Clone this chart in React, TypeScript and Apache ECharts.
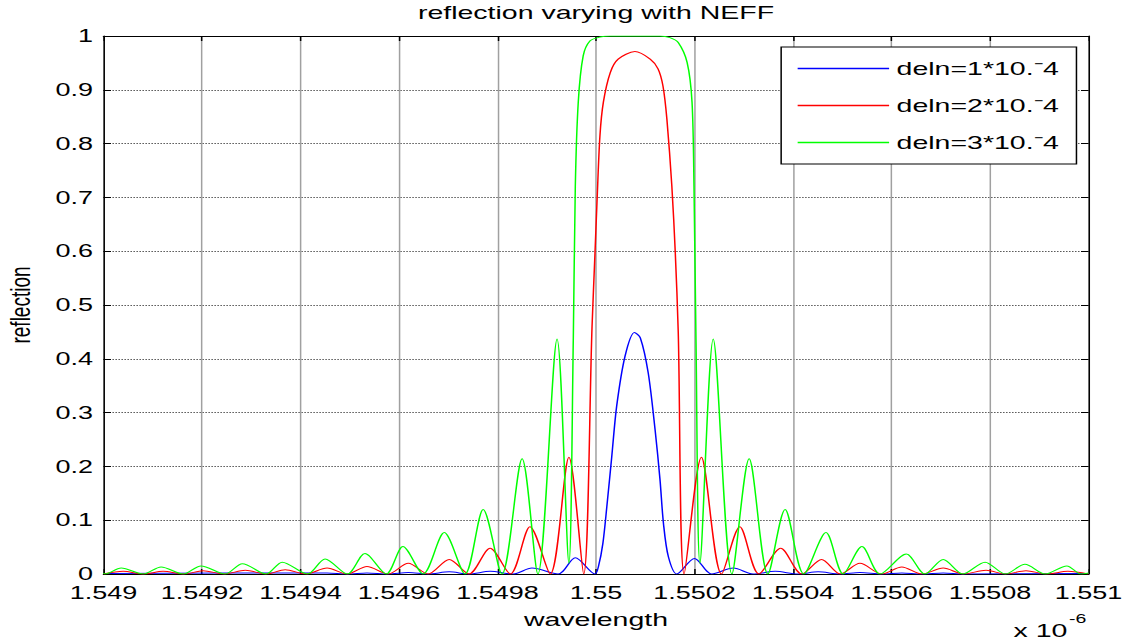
import React, { useEffect, useRef } from 'react';
import * as echarts from 'echarts';

const FONT = '"Liberation Sans", Arial, Helvetica, sans-serif';

const TITLE = 'reflection varying with NEFF';
const X_NAME = 'wavelength';
const Y_NAME = 'reflection';
const X_EXP_BASE = 'x 10';
const X_EXP_POWER = '-6';
const SERIES_NAMES = ['deln=1*10.\u207B4', 'deln=2*10.\u207B4', 'deln=3*10.\u207B4'];
const SERIES_COLORS = ['#0000ff', '#ff0000', '#00ff00'];

const X_MIN = 1.549;
const X_MAX = 1.551;
const X_STEP = 0.0002;
const Y_MIN = 0;
const Y_MAX = 1;
const Y_STEP = 0.1;

// deln = 1e-4 (blue)
const wl1 = [
  1.549000, 1.549454, 1.549495, 1.549535, 1.549578, 1.549619, 1.549659, 1.549702, 1.549742, 1.549785,
  1.549832, 1.549870, 1.549923, 1.549958, 1.549998, 1.550005, 1.550014, 1.550022, 1.550032, 1.550042,
  1.550059, 1.550078, 1.550090, 1.550106, 1.550120, 1.550130, 1.550137, 1.550147, 1.550164, 1.550200,
  1.550235, 1.550279, 1.550319, 1.550364, 1.550410, 1.550451, 1.550496, 1.550536, 1.550580, 1.550621,
  1.550661, 1.550705, 1.550746, 1.551000,
];
const r1 = [
  0.001, 0.002, 0, 0.002, 0, 0.003, 0, 0.004, 0, 0.005,
  0, 0.011, 0, 0.030, 0, 0.014, 0.057, 0.125, 0.218, 0.312,
  0.405, 0.449, 0.439, 0.374, 0.268, 0.175, 0.094, 0.032, 0, 0.029,
  0, 0.011, 0, 0.005, 0, 0.004, 0, 0.003, 0, 0.002,
  0, 0.002, 0, 0.001,
];

// deln = 2e-4 (red)
const wl2 = [
  1.549000, 1.549040, 1.549081, 1.549121, 1.549164, 1.549202, 1.549245, 1.549288, 1.549330, 1.549369,
  1.549411, 1.549454, 1.549495, 1.549535, 1.549578, 1.549619, 1.549659, 1.549702, 1.549742, 1.549785,
  1.549826, 1.549866, 1.549907, 1.549945, 1.549975, 1.549992, 1.549998, 1.550002, 1.550008, 1.550015,
  1.550029, 1.550045, 1.550079, 1.550110, 1.550126, 1.550136, 1.550144, 1.550154, 1.550161, 1.550167,
  1.550179, 1.550214, 1.550255, 1.550292, 1.550331, 1.550375, 1.550418, 1.550458, 1.550496, 1.550536,
  1.550580, 1.550621, 1.550661, 1.550705, 1.550746, 1.550792, 1.550831, 1.550873, 1.550915, 1.550958,
  1.551000,
];
const r2 = [
  0, 0.005, 0, 0.005, 0, 0.006, 0, 0.007, 0, 0.008,
  0, 0.011, 0, 0.014, 0, 0.020, 0, 0.027, 0, 0.048,
  0, 0.088, 0, 0.217, 0, 0.46, 0.597, 0.69, 0.814, 0.877,
  0.932, 0.957, 0.971, 0.957, 0.939, 0.907, 0.845, 0.721, 0.597, 0.45,
  0, 0.217, 0, 0.088, 0, 0.048, 0, 0.027, 0, 0.020,
  0, 0.013, 0, 0.011, 0, 0.007, 0, 0.006, 0, 0.005,
  0,
];

// deln = 3e-4 (green)
const wl3 = [
  1.549000, 1.549003, 1.549036, 1.549081, 1.549117, 1.549162, 1.549198, 1.549247, 1.549282, 1.549330,
  1.549363, 1.549414, 1.549450, 1.549495, 1.549531, 1.549574, 1.549608, 1.549649, 1.549692, 1.549734,
  1.549771, 1.549809, 1.549850, 1.549882, 1.549921, 1.549945, 1.549954, 1.549958, 1.549964, 1.549974,
  1.549988, 1.550008, 1.550029, 1.550130, 1.550150, 1.550167, 1.550185, 1.550195, 1.550199, 1.550203,
  1.550211, 1.550238, 1.550276, 1.550311, 1.550349, 1.550384, 1.550422, 1.550467, 1.550502, 1.550540,
  1.550577, 1.550630, 1.550668, 1.550705, 1.550745, 1.550790, 1.550831, 1.550871, 1.550912, 1.550956,
  1.550985, 1.551000,
];
const r3 = [
  0.002, 0, 0.011, 0, 0.013, 0, 0.015, 0, 0.019, 0,
  0.022, 0, 0.028, 0, 0.038, 0, 0.051, 0, 0.077, 0,
  0.12, 0, 0.214, 0, 0.437, 0.02, 0.44, 0.72, 0.877, 0.963,
  0.991, 0.998, 1.0, 1.0, 0.997, 0.988, 0.951, 0.877, 0.72, 0.436,
  0.02, 0.437, 0, 0.214, 0, 0.12, 0, 0.077, 0, 0.051,
  0, 0.037, 0, 0.027, 0, 0.022, 0, 0.018, 0, 0.015,
  0, 0.002,
];

const WAVELENGTHS = [wl1, wl2, wl3];
const REFLECTIONS = [r1, r2, r3];

// The reference picture is horizontally stretched; draw at a narrower width and stretch it.
const PAGE_W = 1135;
const PAGE_H = 643;
const BASE_W = 757;
const STRETCH = PAGE_W / BASE_W;

export default function App() {
  const ref = useRef<HTMLDivElement>(null);

  useEffect(() => {
    if (!ref.current) return;
    const chart = echarts.init(ref.current, undefined, { renderer: 'svg', width: BASE_W, height: PAGE_H });

    const axisLine = { show: true, onZero: false, lineStyle: { color: '#000', width: 1 } };
    const axisTick = { show: true, inside: true, length: 5, lineStyle: { color: '#000', width: 1 } };

    const series = SERIES_NAMES.map((name, i) => ({
      name,
      type: 'line',
      xAxisIndex: 0,
      yAxisIndex: 0,
      data: WAVELENGTHS[i].map((w, j) => [w, REFLECTIONS[i][j]]),
      showSymbol: false,
      symbol: 'none',
      smooth: 0.3,
      clip: true,
      lineStyle: { color: SERIES_COLORS[i], width: 1 },
      itemStyle: { color: SERIES_COLORS[i] },
      emphasis: { disabled: true },
    }));

    chart.setOption({
      animation: false,
      backgroundColor: '#ffffff',
      textStyle: { fontFamily: FONT },
      title: {
        text: TITLE,
        left: 397.5,
        top: 3,
        textAlign: 'center',
        padding: 0,
        textStyle: { fontSize: 19, fontWeight: 'normal', color: '#000', fontFamily: FONT },
      },
      grid: { left: 69, right: 31, top: 36, bottom: 69, containLabel: false, outerBoundsMode: 'none' },
      legend: {
        orient: 'vertical',
        left: 521,
        top: 47,
        padding: [12, 12, 12, 11],
        itemGap: 18,
        itemWidth: 61,
        itemHeight: 14,
        icon: 'path://M0,0H61V1.6H0Z',
        itemStyle: { borderWidth: 0 },
        backgroundColor: '#ffffff',
        borderColor: '#000',
        borderWidth: 1,
        borderRadius: 0,
        selectedMode: false,
        textStyle: { fontSize: 19, color: '#000', fontFamily: FONT },
        data: SERIES_NAMES,
      },
      xAxis: [
        {
          type: 'value',
          position: 'bottom',
          min: X_MIN,
          max: X_MAX,
          interval: X_STEP,
          name: X_NAME,
          nameLocation: 'middle',
          nameGap: 36,
          nameTextStyle: { fontSize: 19, color: '#000', fontFamily: FONT },
          axisLine,
          axisTick,
          axisLabel: { fontSize: 18, color: '#000', margin: 10, fontFamily: FONT },
          splitLine: { show: true, lineStyle: { color: '#a0a0a0', width: 1, type: 'solid' } },
        },
        {
          type: 'value',
          position: 'top',
          min: X_MIN,
          max: X_MAX,
          interval: X_STEP,
          axisLine,
          axisTick,
          axisLabel: { show: false },
          splitLine: { show: false },
        },
      ],
      yAxis: [
        {
          type: 'value',
          position: 'left',
          min: Y_MIN,
          max: Y_MAX,
          interval: Y_STEP,
          name: Y_NAME,
          nameLocation: 'middle',
          nameGap: 46,
          nameRotate: 90,
          nameTextStyle: { fontSize: 19, color: '#000', fontFamily: FONT },
          axisLine,
          axisTick,
          axisLabel: { fontSize: 18, color: '#000', margin: 7, fontFamily: FONT },
          splitLine: { show: true, lineStyle: { color: '#555', width: 1, type: [1, 1] } },
        },
        {
          type: 'value',
          position: 'right',
          min: Y_MIN,
          max: Y_MAX,
          interval: Y_STEP,
          axisLine,
          axisTick,
          axisLabel: { show: false },
          splitLine: { show: false },
        },
      ],
      graphic: [
        {
          type: 'text',
          x: 676,
          y: 630,
          silent: true,
          style: { text: X_EXP_BASE, fontSize: 19, fill: '#000', fontFamily: FONT, verticalAlign: 'middle', align: 'left' },
        },
        {
          type: 'text',
          x: 713,
          y: 619,
          silent: true,
          style: { text: X_EXP_POWER, fontSize: 13, fill: '#000', fontFamily: FONT, verticalAlign: 'middle', align: 'left' },
        },
      ],
      series,
    });

    return () => {
      chart.dispose();
    };
  }, []);

  return (
    <div
      style={{
        position: 'fixed',
        left: 0,
        top: 0,
        width: PAGE_W,
        height: PAGE_H,
        overflow: 'hidden',
        background: '#fff',
      }}
    >
      <div
        ref={ref}
        style={{
          width: BASE_W,
          height: PAGE_H,
          transform: `scaleX(${STRETCH})`,
          transformOrigin: '0 0',
        }}
      />
    </div>
  );
}
